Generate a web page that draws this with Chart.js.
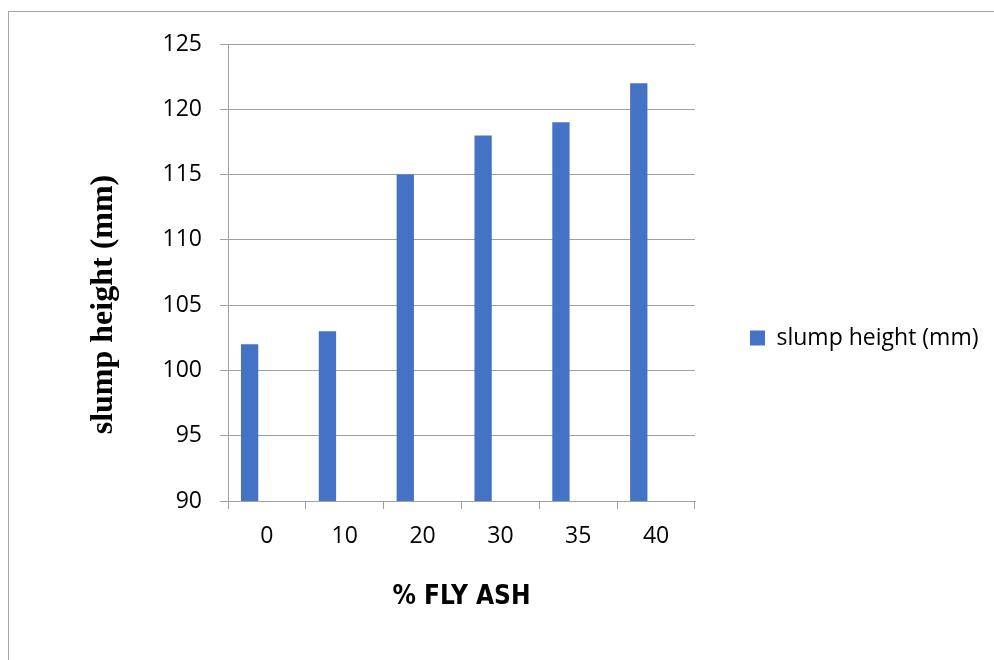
<!DOCTYPE html>
<html>
<head>
<meta charset="utf-8">
<script src="https://cdn.jsdelivr.net/npm/chart.js@4/dist/chart.umd.min.js"></script>
<style>
	html, body { margin: 0; padding: 0; background: #fff; overflow: hidden; }
	#frame { position: absolute; left: 8px; top: 11px; width: 1000px; height: 700px; border-top: 1px solid #a6a6a6; border-left: 1px solid #a6a6a6; }
	#chart { position: absolute; left: 0; top: 0; }
</style>
</head>
<body>
<div id="frame"></div>
<canvas id="chart" width="994" height="660"></canvas>
<script>
var flyAsh = ['0', '10', '20', '30', '35', '40'];
var slumpHeight = [102, 103, 115, 118, 119, 122];
var emptySeries = [null, null, null, null, null, null];
var yTicks = { min: 90, max: 125, step: 5 };

var tickFont = { family: "'Open Sans', sans-serif", size: 23 };
var gridColor = '#a0a0a0';

var ctx = document.getElementById('chart').getContext('2d');
var chart = new Chart(ctx, {
	type: 'bar',
	data: {
		labels: flyAsh,
		datasets: [
			{ label: 'slump height (mm)', data: slumpHeight, backgroundColor: '#4472c4', borderWidth: 0 },
			{ label: 'series2', data: emptySeries, backgroundColor: '#ed7d31', borderWidth: 0 },
			{ label: 'series3', data: emptySeries, backgroundColor: '#a5a5a5', borderWidth: 0 }
		]
	},
	options: {
		responsive: false,
		animation: false,
		devicePixelRatio: 1,
		layout: { padding: { left: 85, top: 44, right: 9, bottom: 28 } },
		datasets: {
			bar: { categoryPercentage: 0.667, barPercentage: 1 }
		},
		plugins: {
			tooltip: { enabled: false },
			legend: {
				position: 'right',
				maxWidth: 290,
				labels: {
					boxWidth: 15,
					boxHeight: 15,
					padding: 55,
					color: '#000',
					font: tickFont,
					filter: function (item) {
						return item.datasetIndex === 0;
					}
				}
			}
		},
		scales: {
			x: {
				grid: { drawOnChartArea: false, drawTicks: true, tickLength: 8, color: gridColor, offset: true },
				border: { color: gridColor },
				ticks: { color: '#000', font: tickFont, padding: 14 },
				title: {
					display: true,
					text: '% FLY ASH',
					color: '#000',
					padding: { top: 0, bottom: 19 },
					font: { family: "'Liberation Sans Narrow', 'DejaVu Sans Condensed', sans-serif", size: 26, weight: 'bold' }
				},
				afterFit: function (scale) {
					scale.height = 131;
				}
			},
			y: {
				min: yTicks.min,
				max: yTicks.max,
				grid: { color: gridColor, tickLength: 8 },
				border: { color: gridColor },
				ticks: { stepSize: yTicks.step, color: '#000', font: tickFont, padding: 18 },
				title: {
					display: true,
					text: 'slump height (mm)        ',
					color: '#000',
					padding: 0,
					font: { family: "'Liberation Serif', serif", size: 32, weight: 'bold' }
				},
				afterFit: function (scale) {
					scale.width = 143;
				}
			}
		}
	}
});
</script>
</body>
</html>
